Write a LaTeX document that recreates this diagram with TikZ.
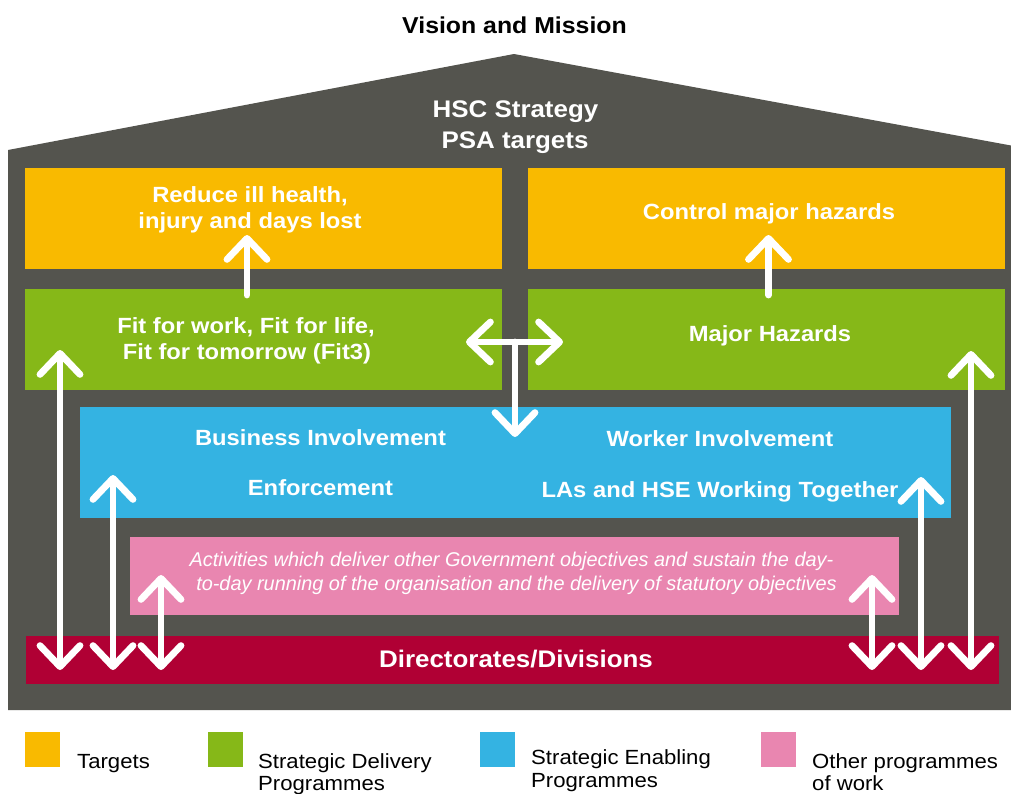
\documentclass[tikz,border=0pt]{standalone}
\usepackage{fontspec}
\setmainfont{Liberation Sans}[FakeStretch=1.08]
\newfontfamily\pinkfont{Liberation Sans}
\usetikzlibrary{arrows.meta,calc}
\definecolor{hgray}{RGB}{84,84,78}
\definecolor{tyellow}{RGB}{249,186,0}
\definecolor{sgreen}{RGB}{134,184,24}
\definecolor{sblue}{RGB}{52,179,226}
\definecolor{opink}{RGB}{233,134,176}
\definecolor{dred}{RGB}{176,0,52}
\begin{document}
\begin{tikzpicture}[x=1pt,y=-1pt,
  box/.style={inner sep=0pt, outer sep=0pt, draw=none, anchor=north west},
  lbl/.style={text=white, inner sep=0pt, anchor=base, font=\bfseries\fontsize{22}{26}\selectfont},
  leg/.style={text=black, inner sep=0pt, anchor=base west, text depth=0pt, font=\fontsize{20.5}{24}\selectfont},
  pinktxt/.style={text=white, inner sep=0pt, anchor=base, font=\pinkfont\itshape\fontsize{19.9}{23}\selectfont},
  barb/.tip={Straight Barb[length=21pt,width=40pt,round]},
  arr/.style={draw=white, line width=6.8pt, line cap=round, -barb},
  dbl/.style={draw=white, line width=6.8pt, line cap=round, barb-barb}]
\useasboundingbox (0,0) rectangle (1011,793);
\fill[white] (0,0) rectangle (1011,793);
% house
\fill[hgray] (8,710) -- (8,150) -- (514,54) -- (1011,145.5) -- (1011,710) -- cycle;
\node[inner sep=0pt, anchor=base, font=\bfseries\fontsize{23}{27}\selectfont] (vm) at (514.5,33) {Vision and Mission};
\node[lbl, font=\bfseries\fontsize{24}{28}\selectfont] (hsc) at (515.5,117) {HSC Strategy};
\node[lbl, font=\bfseries\fontsize{24}{28}\selectfont] (psa) at (515,148) {PSA targets};
% boxes
\node[box, fill=tyellow, minimum width=477, minimum height=101] (rih) at (25,168) {};
\node[box, fill=tyellow, minimum width=477, minimum height=101] (cmh) at (528,168) {};
\node[box, fill=sgreen, minimum width=477, minimum height=101] (fit) at (25,289) {};
\node[box, fill=sgreen, minimum width=477, minimum height=101] (mh) at (528,289) {};
\node[box, fill=sblue, minimum width=871, minimum height=111] (blue) at (80,407) {};
\node[box, fill=opink, minimum width=769, minimum height=78] (pink) at (130,537) {};
\node[box, fill=dred, minimum width=973, minimum height=48] (dd) at (26,636) {};
% labels
\node[lbl] (trih1) at (250,202) {Reduce ill health,};
\node[lbl] (trih2) at (250,228) {injury and days lost};
\node[lbl] (tcmh) at (769,219) {Control major hazards};
\node[lbl] (tfit1) at (246,333) {Fit for work, Fit for life,};
\node[lbl] (tfit2) at (247,359) {Fit for tomorrow (Fit3)};
\node[lbl] (tmh) at (770,341) {Major Hazards};
\node[lbl] (tbi) at (320.5,445) {Business Involvement};
\node[lbl] (twi) at (720,446) {Worker Involvement};
\node[lbl] (ten) at (320.5,495) {Enforcement};
\node[lbl] (tla) at (720,497) {LAs and HSE Working Together};
\node[pinktxt] (tp1) at (511.5,566) {Activities which deliver other Government objectives and sustain the day-};
\node[pinktxt] (tp2) at (516.5,590) {to-day running of the organisation and the delivery of statutory objectives};
\node[lbl, font=\bfseries\fontsize{24}{28}\selectfont] (tdd) at (516,667) {Directorates/Divisions};
% connectors
\draw[arr] ($(fit.north)+(-16.5,6)$) -- ($(rih.south)+(-16.5,-34)$);
\draw[arr] ($(mh.north)+(2,6)$) -- ($(cmh.south)+(2,-34)$);
\coordinate (tj) at ($(fit.east)!0.5!(mh.west)+(0,2.5)$);
\draw[dbl] ($(fit.east)+(-36,2.5)$) -- ($(mh.west)+(35,2.5)$);
\coordinate (bt) at ($(blue.north)+(0,30)$);
\draw[arr] (tj) -- (tj |- bt);
\coordinate (ddb) at ($(dd.north)+(0,34)$);
\coordinate (ua) at ($(fit.north west)+(35,61)$);
\coordinate (ub) at ($(blue.north west)+(33,68)$);
\coordinate (uc) at ($(pink.north west)+(31,38)$);
\coordinate (ud) at ($(pink.north east)+(-27,38)$);
\coordinate (ue) at ($(blue.north east)+(-30,70)$);
\coordinate (uf) at ($(mh.north east)+(-34,62)$);
\foreach \u in {ua,ub,uc,ud,ue,uf}{
  \draw[dbl] (\u) -- (\u |- ddb);
}
% legend
\node[box, fill=tyellow, minimum width=35, minimum height=35] (ly) at (25,732) {};
\node[box, fill=sgreen, minimum width=35, minimum height=35] (lg) at (208,732) {};
\node[box, fill=sblue, minimum width=35, minimum height=35] (lb) at (480,732) {};
\node[box, fill=opink, minimum width=35, minimum height=35] (lp) at (761,732) {};
\node[leg] (lty) at (77,768) {Targets};
\node[leg] (ltg1) at (258,768) {Strategic Delivery};
\node[leg] (ltg2) at (258,790) {Programmes};
\node[leg] (ltb1) at (531,764) {Strategic Enabling};
\node[leg] (ltb2) at (531,787) {Programmes};
\node[leg] (ltp1) at (812,768) {Other programmes};
\node[leg] (ltp2) at (812,790) {of work};
\end{tikzpicture}
\end{document}
